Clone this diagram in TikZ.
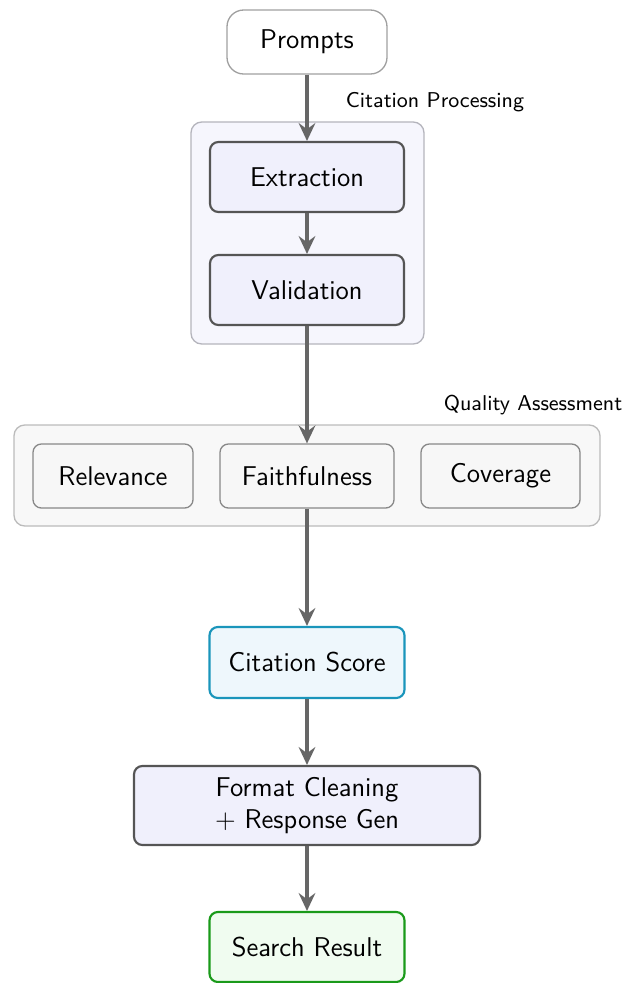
\documentclass[tikz,border=0pt]{standalone}
\usetikzlibrary{arrows.meta}
\definecolor{edgegray}{HTML}{666666}
\definecolor{procfill}{HTML}{F0F0FC}
\definecolor{procline}{HTML}{555555}
\definecolor{groupfill}{HTML}{F6F6FD}
\definecolor{groupline}{HTML}{B4B4BC}
\definecolor{qafill}{HTML}{F8F8F8}
\definecolor{qaline}{HTML}{BBBBBB}
\definecolor{metricfill}{HTML}{F7F7F7}
\definecolor{metricline}{HTML}{888888}
\definecolor{scorefill}{HTML}{EEF7FC}
\definecolor{scoreline}{HTML}{1A95BB}
\definecolor{resfill}{HTML}{F0FCF0}
\definecolor{resline}{HTML}{1A9A1A}
\begin{document}
\begin{tikzpicture}[x=0.42pt, y=-0.42pt,
  every node/.style={font=\sffamily},
  boxfont/.style={font=\sffamily\fontsize{11.4}{13.2}\selectfont},
  base/.style={rectangle, rounded corners=3.5pt, align=center, inner sep=0pt, boxfont},
  startbox/.style={base, draw=metricline!80, fill=white, line width=0.55pt, rounded corners=7pt,
    minimum width=160*0.42pt, minimum height=64*0.42pt},
  procbox/.style={base, draw=procline, fill=procfill, line width=0.9pt,
    minimum width=194*0.42pt, minimum height=70*0.42pt},
  metricbox/.style={base, draw=metricline, fill=metricfill, line width=0.55pt,
    minimum height=64*0.42pt},
  scorebox/.style={base, draw=scoreline, fill=scorefill, line width=0.9pt,
    minimum width=195*0.42pt, minimum height=71*0.42pt},
  resultbox/.style={base, draw=resline, fill=resfill, line width=0.9pt,
    minimum width=195*0.42pt, minimum height=70*0.42pt},
  groupbox/.style={rounded corners=4.5pt, line width=0.55pt},
  grouplabel/.style={font=\sffamily\small, inner sep=0pt},
  flow/.style={draw=edgegray, line width=1.5pt, -{Stealth[length=7.5pt, width=7pt, inset=2.6pt]}}
]
\useasboundingbox (0,0) rectangle (626,983);

% group backgrounds
\draw[groupbox, draw=groupline, fill=groupfill] (191,122) rectangle (424,344);
\node[grouplabel] (cplabel) at (435,102) {Citation Processing};
\draw[groupbox, draw=qaline, fill=qafill] (14,425) rectangle (600,526);
\node[grouplabel] (qalabel) at (533,405) {Quality Assessment};

% pipeline nodes
\node[startbox] (prompts) at (307,42) {Prompts};
\node[procbox] (extract) at (307,177) {Extraction};
\node[procbox] (valid) at (307,290) {Validation};
\node[metricbox, minimum width=160*0.42pt] (relev) at (113,476) {Relevance};
\node[metricbox, minimum width=174*0.42pt] (faith) at (307,476) {Faithfulness};
\node[metricbox, minimum width=159*0.42pt] (cover) at (500.5,476) {Coverage};
\node[scorebox] (score) at (307,662.5) {Citation Score};
\node[procbox, minimum width=346*0.42pt, minimum height=79*0.42pt] (format) at (307,805.5)
  {Format Cleaning\\+ Response Gen};
\node[resultbox] (result) at (307,947) {Search Result};

% connectors
\draw[flow] (prompts) -- (extract);
\draw[flow] (extract) -- (valid);
\draw[flow] (valid) -- (faith);
\draw[flow] (faith) -- (score);
\draw[flow] (score) -- (format);
\draw[flow] (format) -- (result);
\end{tikzpicture}
\end{document}
